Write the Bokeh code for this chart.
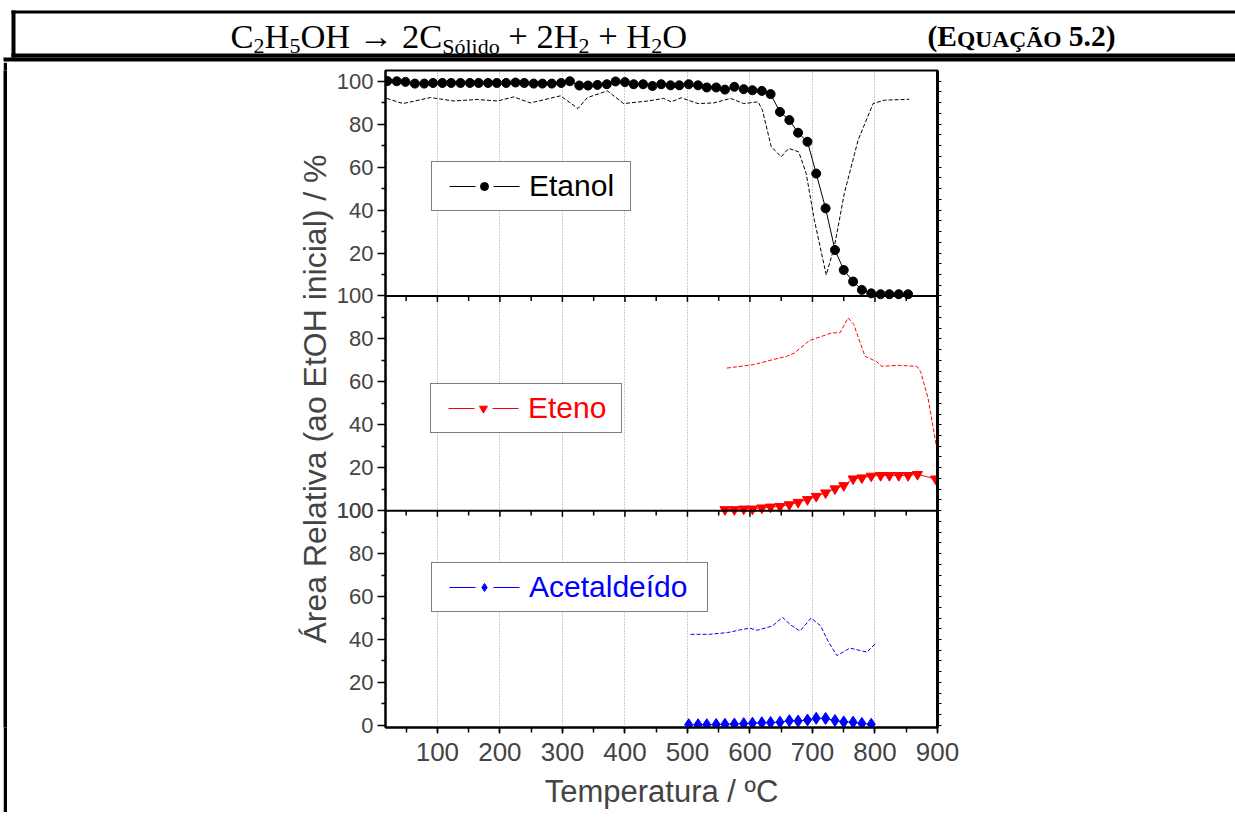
from bokeh.plotting import figure
from bokeh.layouts import column, row
from bokeh.models import (Range1d, LinearAxis, FixedTicker, SingleIntervalTicker, Span,
                          Legend, LegendItem, Grid, CustomLabelingPolicy, Spacer)
from bokeh.embed import file_html
from bokeh.resources import INLINE
from bokeh.core.properties import value

FONT = "Liberation Sans"
SERIF = "Liberation Serif"

# ---------------- data ----------------
temp_etanol = [20, 35, 49, 64, 79, 93, 108, 122, 137, 152, 166, 181, 195, 210, 225, 239, 254, 268,
               283, 298, 312, 327, 341, 356, 371, 385, 400, 414, 429, 444, 458, 473, 487, 502, 517,
               531, 546, 560, 575, 590, 604, 619, 633, 648, 663, 677, 692, 706, 721, 736, 750, 765,
               779, 794, 809, 823, 838, 853]
etanol = [100.1, 100.0, 99.7, 98.9, 98.9, 99.2, 99.2, 99.2, 99.2, 99.2, 99.2, 99.2, 99.2, 99.2,
          99.4, 99.2, 98.9, 98.9, 98.9, 99.2, 100.0, 98.0, 98.0, 98.3, 98.6, 99.9, 99.6, 98.6, 98.6,
          97.8, 98.6, 98.1, 98.1, 98.6, 98.1, 97.1, 97.1, 96.1, 97.4, 96.3, 95.8, 95.5, 94.0, 85.7,
          81.9, 76.0, 71.8, 57.0, 40.8, 21.4, 12.1, 6.7, 2.8, 1.2, 0.8, 0.8, 0.8, 0.8]

temp_etanol_b = [19, 45, 89, 126, 164, 196, 222, 249, 297, 325, 340, 372, 398, 437, 462, 474, 490,
                 517, 542, 569, 590, 613, 620, 634, 650, 662, 678, 690, 703, 722, 735, 751, 773,
                 797, 815, 855]
etanol_b = [92.0, 89.6, 92.4, 90.8, 91.5, 90.8, 92.7, 89.9, 93.2, 87.3, 92.4, 95.5, 89.6, 90.8,
            92.0, 90.4, 92.3, 89.6, 89.9, 92.0, 89.6, 90.4, 86.5, 69.5, 64.8, 68.7, 67.1, 57.0,
            35.3, 9.8, 22.9, 47.8, 72.6, 89.6, 91.2, 91.6]

temp_eteno = [560, 575, 590, 604, 619, 633, 648, 663, 677, 692, 706, 721, 736, 750, 765, 779, 794,
              809, 823, 838, 853, 868, 897]
eteno = [0.5, 0.5, 0.8, 0.8, 1.3, 1.7, 2.0, 2.8, 3.9, 5.2, 6.7, 8.3, 10.2, 11.7, 14.8, 15.3, 16.1,
         16.4, 16.4, 16.4, 16.4, 16.9, 14.8]

temp_eteno_b = [563, 606, 636, 659, 671, 695, 731, 744, 757, 766, 784, 802, 811, 837, 867, 873,
                885, 900]
eteno_b = [66.4, 68.0, 70.3, 71.9, 73.4, 79.2, 82.8, 82.8, 89.8, 86.7, 71.9, 69.5, 67.2, 67.7,
           67.2, 64.8, 52.3, 27.0]

temp_acet = [502, 517, 531, 546, 560, 575, 590, 604, 619, 633, 648, 663, 677, 692, 706, 721, 736,
             750, 765, 779, 794]
acet = [0.3, 0.3, 0.3, 0.4, 0.5, 0.6, 0.8, 1.0, 1.2, 1.3, 1.5, 2.2, 2.0, 2.5, 3.3, 3.2, 2.3, 1.6,
        1.5, 0.9, 0.5]

temp_acet_b = [505, 535, 564, 588, 600, 612, 636, 652, 665, 680, 698, 713, 725, 739, 760, 787, 800]
acet_b = [42.4, 42.4, 43.2, 44.7, 45.2, 44.3, 46.3, 50.3, 46.8, 43.9, 50.0, 46.3, 39.2, 32.5, 36.0,
          34.1, 37.9]

panel_tick_values = [0, 20, 40, 60, 80, 100]
panel_tick_labels = ["0", "20", "40", "60", "80", "100"]
series_names = ["Etanol", "Eteno", "Acetaldeído"]
x_label = "Temperatura / ºC"
y_label = "Área Relativa (ao EtOH inicial) / %"

# ---------------- header (page box + equation) ----------------
PAGE_W = 1235
HDR_H = 62
hdr = figure(width=PAGE_W, height=HDR_H, x_range=Range1d(0, PAGE_W), y_range=Range1d(0, HDR_H),
             min_border=0, x_axis_location=None, y_axis_location=None,
             output_backend="svg", toolbar_location=None)
hdr.grid.visible = False
hdr.outline_line_color = None


def Y(img_y):
    return HDR_H - img_y


box_l = [11, 11, 11, 3]
box_r = [PAGE_W, 15, PAGE_W, PAGE_W]
box_t = [10, 10, 53, 57]
box_b = [13, 57, 57, 61]
hdr.quad(left=box_l, right=box_r, top=[Y(v) for v in box_t], bottom=[Y(v) for v in box_b],
         color="black", line_color=None)

TW = {'C': .667, 'H': .722, 'O': .722, '2': .5, '5': .5, ' ': .25, '+': .564, '→': 1.0,
      'S': .556, 'ó': .5, 'l': .278, 'i': .278, 'd': .5, 'o': .5}
TWB = {'(': .333, 'E': .667, 'Q': .778, 'U': .722, 'A': .722, 'Ç': .722, 'Ã': .722, 'O': .778,
       ' ': .25, '5': .5, '.': .25, '2': .5, ')': .333}
MID = 0.34  # baseline -> visual middle of the text box, in em

BIG, SUB = 34.5, 22
pieces = [("C", BIG, 0), ("2", SUB, 1), ("H", BIG, 0), ("5", SUB, 1), ("OH", BIG, 0),
          ("→", BIG, 2), ("2C", BIG, 0), ("Sólido", SUB, 1), ("+", BIG, 2), ("2H", BIG, 0),
          ("2", SUB, 1), ("+", BIG, 2), ("H", BIG, 0), ("2", SUB, 1), ("O", BIG, 0)]
x = 230.0
for txt, sz, kind in pieces:
    if kind == 2:
        x += TW[' '] * sz
    base = 47 + 6 * (kind == 1)
    hdr.text(x=[x], y=[Y(base - MID * sz)], text=[txt], text_font=value(SERIF),
             text_font_size=f"{sz}px", text_baseline="middle", text_align="left",
             text_color="black")
    x += sum(TW[c] for c in txt) * sz
    if kind == 2:
        x += TW[' '] * sz

BB, BS = 29.5, 23.5
pieces2 = [("(E", BB, 0), ("QUAÇÃO", BS, 0), ("5.2)", BB, 1)]
x = 927.0
for txt, sz, gap in pieces2:
    x += gap * TWB[' '] * sz
    hdr.text(x=[x], y=[Y(46 - MID * sz)], text=[txt], text_font=value(SERIF),
             text_font_size=f"{sz}px", text_font_style="bold", text_baseline="middle",
             text_align="left", text_color="black")
    x += sum(TWB[c] for c in txt) * sz

# ---------------- left frame bar ----------------
PANEL_H = 812 - HDR_H
gap = Spacer(width=3, height=PANEL_H)
bar = figure(width=4, height=PANEL_H, min_border=0, x_axis_location=None,
             y_axis_location=None, output_backend="svg", toolbar_location=None,
             background_fill_color="black", border_fill_color="black", outline_line_color=None)
bar.grid.visible = False

# ---------------- stacked panels ----------------
p = figure(width=PAGE_W - 7, height=PANEL_H, x_range=Range1d(17, 900), y_range=Range1d(-1, 305),
           min_border_left=385 - 7, min_border_right=PAGE_W - 937, min_border_top=70 - HDR_H,
           min_border_bottom=812 - 727, x_axis_location=None, y_axis_location=None,
           output_backend="svg", toolbar_location=None)
for g in p.grid:
    g.visible = False
p.extra_y_ranges = {"top": Range1d(-201, 105), "mid": Range1d(-101, 205)}
p.outline_line_color = "black"
p.outline_line_width = 2

xaxis = LinearAxis(ticker=SingleIntervalTicker(interval=100, num_minor_ticks=2),
                   axis_label=x_label)
xaxis.axis_line_width = 2
xaxis.major_tick_out = 6
xaxis.major_tick_in = 0
xaxis.minor_tick_out = 5
xaxis.minor_tick_in = 0
xaxis.major_tick_line_width = 1.5
xaxis.minor_tick_line_width = 1.5
xaxis.major_label_text_font = FONT
xaxis.major_label_text_font_size = "26px"
xaxis.major_label_standoff = 9
xaxis.axis_label_text_font = FONT
xaxis.axis_label_text_font_size = "31px"
xaxis.axis_label_text_font_style = "normal"
xaxis.axis_label_standoff = 10
p.add_layout(xaxis, "below")

grid = Grid(dimension=0, axis=xaxis, grid_line_color="#9a9a9a", grid_line_dash="1 2",
            grid_line_width=1)
p.add_layout(grid, "center")

offsets = [200, 100, 0]   # top, middle, bottom panel in stacked axis units
yt, ymin, overrides = [], [], {}
for off in offsets:
    for v, lab in zip(panel_tick_values, panel_tick_labels):
        if off == 200 and v == 0:
            continue
        yt.append(off + v)
        overrides[off + v] = lab
    for v in panel_tick_values[:-1]:
        ymin.append(off + v + 10)
yaxis = LinearAxis(ticker=FixedTicker(ticks=sorted(yt), minor_ticks=sorted(ymin)),
                   axis_label=y_label, major_label_overrides=overrides)
yaxis.axis_line_width = 2
yaxis.major_tick_out = 8
yaxis.major_tick_in = 0
yaxis.minor_tick_out = 4
yaxis.minor_tick_in = 0
yaxis.major_tick_line_width = 1.5
yaxis.minor_tick_line_width = 1.5
yaxis.major_label_text_font = FONT
yaxis.major_label_text_font_size = "22px"
yaxis.major_label_standoff = 4
yaxis.axis_label_text_font = FONT
yaxis.axis_label_text_font_size = "32px"
yaxis.axis_label_text_font_style = "normal"
yaxis.axis_label_standoff = 1
p.add_layout(yaxis, "left")

rticks = sorted(set(off + v for off in offsets for v in range(0, 101, 5)))
raxis = LinearAxis(ticker=FixedTicker(ticks=rticks, minor_ticks=[]),
                   major_label_policy=CustomLabelingPolicy(code=""))
raxis.axis_line_width = 3
raxis.major_tick_out = 4
raxis.major_tick_in = 0
raxis.major_tick_line_width = 1
raxis.major_label_standoff = 0
p.add_layout(raxis, "right")

# panel boundaries and their downward ticks
for off in (100, 200):
    p.add_layout(Span(location=off, dimension="width", line_color="black", line_width=2))
bt = list(range(50, 901, 50))
for off in (100, 200):
    p.segment(x0=bt, x1=bt, y0=[off] * len(bt),
              y1=[off - (2.8 if t % 100 == 0 else 2.3) for t in bt],
              line_color="black", line_width=1.5)

# Etanol (top)
p.line(temp_etanol_b, etanol_b, y_range_name="top", line_color="black", line_width=1,
       line_dash="4 2")
p.line(temp_etanol, etanol, y_range_name="top", line_color="black", line_width=1)
s1 = p.scatter(temp_etanol, etanol, y_range_name="top", marker="circle", size=9,
               color="black")
# Eteno (middle)
p.line(temp_eteno_b, eteno_b, y_range_name="mid", line_color="red", line_width=1,
       line_dash="4 2")
p.line(temp_eteno, eteno, y_range_name="mid", line_color="red", line_width=1)
s2 = p.scatter(temp_eteno, eteno, y_range_name="mid", marker="inverted_triangle", size=10,
               color="red")
# Acetaldeido (bottom)
p.line(temp_acet_b, acet_b, line_color="blue", line_width=1, line_dash="4 2")
p.line(temp_acet, acet, line_color="blue", line_width=1)
s3 = p.scatter(temp_acet, acet, marker="diamond", size=12, color="blue")

# legend key lines: "—  •  —" (line, gap, symbol, gap, line); key-only renderer, no visible data
KEY_DASH = "0 10 26 18 26 200"
NAN = float("nan")


def make_legend(name, scat, color, loc, lw):
    key = p.line(x=[NAN, NAN], y=[NAN, NAN], line_color=color, line_width=1,
                 line_dash=KEY_DASH)
    lg = Legend(items=[LegendItem(label=name, renderers=[key, scat])], location=loc)
    lg.label_text_font = FONT
    lg.label_text_font_size = "30px"
    lg.label_text_color = color
    lg.padding = 7
    lg.margin = 0
    lg.spacing = 0
    lg.glyph_width = 90
    lg.glyph_height = 20
    lg.label_standoff = 0
    lg.label_width = lw
    lg.border_line_color = "black"
    lg.border_line_width = 1
    lg.background_fill_color = "white"
    lg.background_fill_alpha = 1
    return lg


p.add_layout(make_legend(series_names[0], s1, "black", (46, 516), 94), "center")
p.add_layout(make_legend(series_names[1], s2, "red", (45, 294), 86), "center")
p.add_layout(make_legend(series_names[2], s3, "blue", (46, 115), 171), "center")

layout = column(hdr, row(gap, bar, p))
open("out.html", "w").write(file_html(layout, INLINE))
